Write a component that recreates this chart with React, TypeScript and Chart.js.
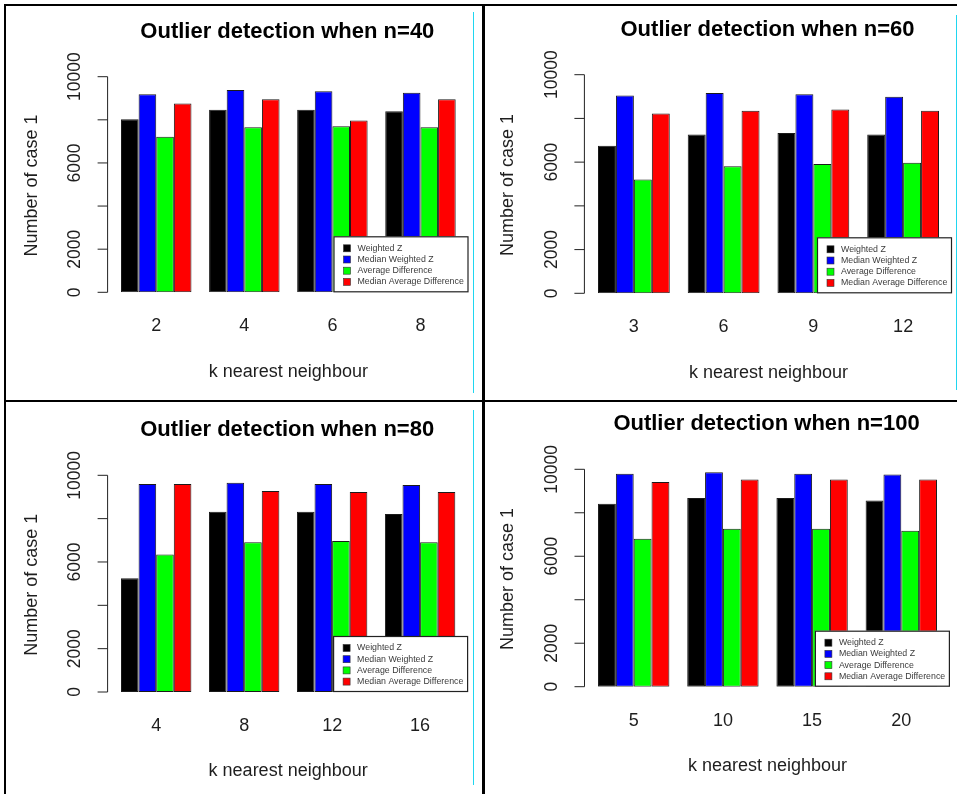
import React, { useEffect, useRef } from 'react';
import { Chart, registerables } from 'chart.js';

Chart.register(...registerables);

// ---------- data ----------
const SERIES_NAMES = ['Weighted Z', 'Median Weighted Z', 'Average Difference', 'Median Average Difference'];
const SERIES_COLORS = ['#000000', '#0000ff', '#00ff00', '#ff0000'];

const Y_TICK_VALUES = [0, 2000, 4000, 6000, 8000, 10000];
const Y_TICK_LABELS = ['0', '2000', '', '6000', '', '10000'];

const TITLES = [
  'Outlier detection when n=40',
  'Outlier detection when n=60',
  'Outlier detection when n=80',
  'Outlier detection when n=100',
];
const X_TITLE = 'k nearest neighbour';
const Y_TITLE = 'Number of case 1';

const K_N40 = ['2', '4', '6', '8'];
const K_N60 = ['3', '6', '9', '12'];
const K_N80 = ['4', '8', '12', '16'];
const K_N100 = ['5', '10', '15', '20'];

const WZ_N40 = [8030, 8470, 8470, 8400];
const MWZ_N40 = [9190, 9380, 9320, 9260];
const AD_N40 = [7210, 7650, 7700, 7650];
const MAD_N40 = [8760, 8950, 7970, 8950];

const WZ_N60 = [6750, 7270, 7330, 7270];
const MWZ_N60 = [9050, 9160, 9100, 8990];
const AD_N60 = [5210, 5810, 5910, 5970];
const MAD_N60 = [8230, 8350, 8410, 8350];

const WZ_N80 = [5250, 8320, 8320, 8210];
const MWZ_N80 = [9600, 9660, 9600, 9550];
const AD_N80 = [6350, 6910, 6970, 6910];
const MAD_N80 = [9600, 9280, 9230, 9230];

const WZ_N100 = [8420, 8680, 8680, 8560];
const MWZ_N100 = [9800, 9870, 9800, 9760];
const AD_N100 = [6800, 7270, 7270, 7170];
const MAD_N100 = [9420, 9530, 9530, 9530];

// ---------- layout ----------
type Box = { x: number; y: number; w: number; h: number };
type Area = { l: number; t: number; r: number; b: number };

const FONT = '"Liberation Sans", Arial, Helvetica, sans-serif';
const TEXT = '#1e1e1e';

interface PanelProps {
  title: string;
  labels: string[];
  series: number[][];
  box: Box;
  area: Area;
}

function Panel({ title, labels, series, box, area }: PanelProps) {
  const ref = useRef<HTMLCanvasElement | null>(null);

  useEffect(() => {
    if (!ref.current) return;
    const rPlugin = {
      id: 'rstyle',
      afterDraw(chart: any) {
        const ctx = chart.ctx as CanvasRenderingContext2D;
        const ca = chart.chartArea;
        const ys = chart.scales.y;
        const xs = chart.scales.x;
        ctx.save();
        // y axis (R style)
        const axisX = ca.left - 4.6;
        const y0 = ys.getPixelForValue(Y_TICK_VALUES[0]);
        const y1 = ys.getPixelForValue(Y_TICK_VALUES[Y_TICK_VALUES.length - 1]);
        ctx.strokeStyle = '#222';
        ctx.lineWidth = 1;
        ctx.beginPath();
        ctx.moveTo(axisX, y0);
        ctx.lineTo(axisX, y1);
        Y_TICK_VALUES.forEach((v) => {
          const y = ys.getPixelForValue(v);
          ctx.moveTo(axisX, y);
          ctx.lineTo(axisX - 10, y);
        });
        ctx.stroke();
        ctx.fillStyle = TEXT;
        ctx.font = `17.5px ${FONT}`;
        ctx.textAlign = 'center';
        ctx.textBaseline = 'middle';
        Y_TICK_VALUES.forEach((v, i) => {
          const lab = Y_TICK_LABELS[i];
          if (!lab) return;
          const y = ys.getPixelForValue(v);
          ctx.save();
          ctx.translate(axisX - 32.5, y);
          ctx.rotate(-Math.PI / 2);
          ctx.fillText(lab, 0, 0);
          ctx.restore();
        });
        // y title
        ctx.font = `18px ${FONT}`;
        ctx.save();
        ctx.translate(axisX - 76, (ca.top + ca.bottom) / 2 + 1);
        ctx.rotate(-Math.PI / 2);
        ctx.fillText(Y_TITLE, 0, 0);
        ctx.restore();
        // x tick labels (group names)
        ctx.font = `18px ${FONT}`;
        labels.forEach((lab, i) => {
          ctx.fillText(lab, xs.getPixelForValue(i), ca.bottom + 34);
        });
        // x title
        ctx.fillText(X_TITLE, (ca.left + ca.right) / 2, ca.bottom + 79.5);
        // main title
        ctx.fillStyle = '#000';
        ctx.font = `bold 22px ${FONT}`;
        ctx.fillText(title, (ca.left + ca.right) / 2 - 1, ca.top - 45);
        // legend box
        const lw = 135;
        const lh = 56;
        const lr = ca.right + 4;
        const ll = lr - lw;
        const lb = ca.bottom;
        const lt = lb - lh;
        ctx.fillStyle = '#ffffff';
        ctx.fillRect(ll, lt, lw, lh);
        ctx.strokeStyle = '#222';
        ctx.lineWidth = 1.2;
        ctx.strokeRect(ll + 0.5, lt + 0.5, lw - 1, lh - 1);
        ctx.font = `8.8px ${FONT}`;
        ctx.textAlign = 'left';
        SERIES_NAMES.forEach((name, i) => {
          const cy = lt + 12 + i * 11.2;
          ctx.fillStyle = SERIES_COLORS[i];
          ctx.fillRect(ll + 10, cy - 3.5, 7, 7);
          ctx.strokeStyle = '#333';
          ctx.lineWidth = 0.6;
          ctx.strokeRect(ll + 10, cy - 3.5, 7, 7);
          ctx.fillStyle = '#3a3a3a';
          ctx.fillText(name, ll + 24, cy);
        });
        ctx.restore();
      },
    };

    const chart = new Chart(ref.current, {
      type: 'bar',
      data: {
        labels,
        datasets: series.map((d, i) => ({
          label: SERIES_NAMES[i],
          data: d,
          backgroundColor: SERIES_COLORS[i],
          borderColor: '#1a1a1a',
          borderWidth: 1,
          borderSkipped: false,
          barPercentage: 1,
          categoryPercentage: 0.8,
        })),
      },
      options: {
        responsive: false,
        maintainAspectRatio: false,
        animation: false,
        devicePixelRatio: 1,
        layout: {
          padding: {
            left: area.l - box.x,
            right: box.x + box.w - area.r,
            top: area.t - box.y,
            bottom: box.y + box.h - area.b,
          },
        },
        scales: {
          x: { display: false, offset: true },
          y: { display: false, min: 0, max: 10000 },
        },
        plugins: {
          legend: { display: false },
          title: { display: false },
          tooltip: { enabled: false },
        },
      },
      plugins: [rPlugin],
    } as any);
    return () => chart.destroy();
  }, [title, labels, series, box, area]);

  return (
    <canvas
      ref={ref}
      width={box.w}
      height={box.h}
      style={{ position: 'absolute', left: box.x, top: box.y, width: box.w, height: box.h }}
    />
  );
}

const PANELS: PanelProps[] = [
  {
    title: TITLES[0],
    labels: K_N40,
    series: [WZ_N40, MWZ_N40, AD_N40, MAD_N40],
    box: { x: 6, y: 6, w: 476, h: 394 },
    area: { l: 112.2, t: 76.7, r: 464.5, b: 292.3 },
  },
  {
    title: TITLES[1],
    labels: K_N60,
    series: [WZ_N60, MWZ_N60, AD_N60, MAD_N60],
    box: { x: 485, y: 6, w: 472, h: 394 },
    area: { l: 589, t: 74.7, r: 948, b: 293.3 },
  },
  {
    title: TITLES[2],
    labels: K_N80,
    series: [WZ_N80, MWZ_N80, AD_N80, MAD_N80],
    box: { x: 6, y: 402, w: 476, h: 392 },
    area: { l: 112.2, t: 475.3, r: 464.1, b: 692 },
  },
  {
    title: TITLES[3],
    labels: K_N100,
    series: [WZ_N100, MWZ_N100, AD_N100, MAD_N100],
    box: { x: 485, y: 402, w: 472, h: 392 },
    area: { l: 589.1, t: 469.3, r: 945.9, b: 686.7 },
  },
];

const line = (x: number, y: number, w: number, h: number, c: string) => (
  <div style={{ position: 'absolute', left: x, top: y, width: w, height: h, background: c }} />
);

export default function App() {
  return (
    <div
      style={{
        position: 'absolute',
        left: 0,
        top: 0,
        width: 957,
        height: 794,
        background: '#ffffff',
        overflow: 'hidden',
      }}
    >
      {PANELS.map((p, i) => (
        <Panel key={i} {...p} />
      ))}
      {line(4, 4, 953, 2, '#000')}
      {line(4, 4, 2, 790, '#000')}
      {line(482, 4, 2.5, 790, '#000')}
      {line(4, 400, 953, 2, '#000')}
      {line(473, 12, 1, 381, '#1fd6f0')}
      {line(473, 410, 1, 375, '#1fd6f0')}
      {line(956, 15, 1, 375, '#1fd6f0')}
    </div>
  );
}
